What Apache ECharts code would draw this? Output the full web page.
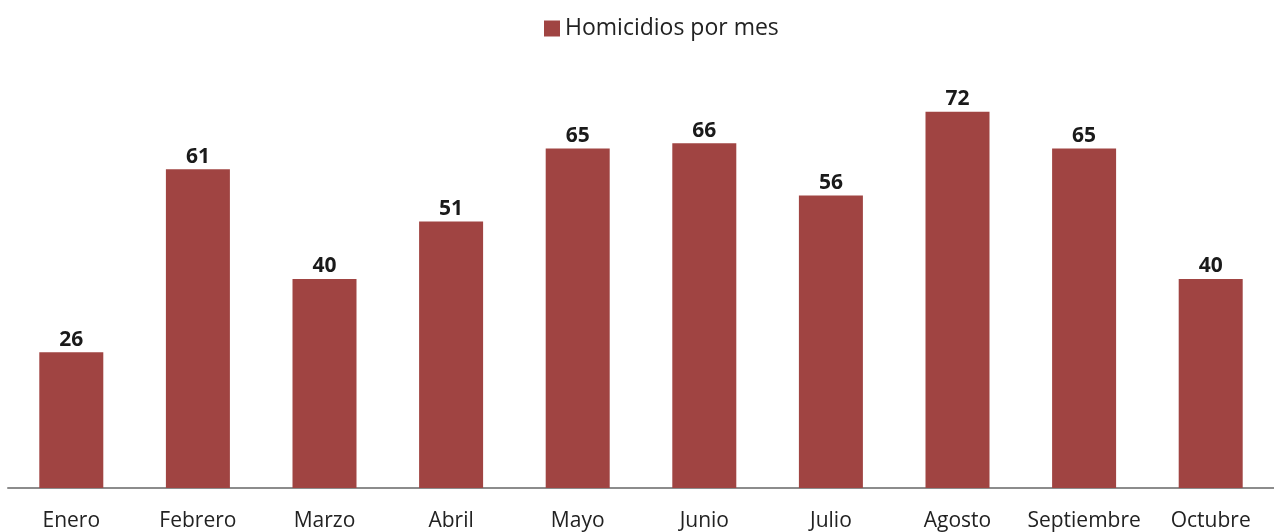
<!DOCTYPE html>
<html><head><meta charset="utf-8">
<script src="https://cdn.jsdelivr.net/npm/echarts@6/dist/echarts.min.js"></script>
<style>html,body{margin:0;padding:0;background:#fff}#c{width:1274px;height:532px}</style>
</head><body><div id="c"></div>
<script>
var categories = ['Enero','Febrero','Marzo','Abril','Mayo','Junio','Julio','Agosto','Septiembre','Octubre'];
var seriesName = 'Homicidios por mes';
var values = [26,61,40,51,65,66,56,72,65,40];
var chart = echarts.init(document.getElementById('c'));
chart.setOption({
  animation:false,
  legend:{left:539, top:12, icon:'rect', itemWidth:16, itemHeight:16, itemGap:8,
    textStyle:{fontFamily:'Open Sans', fontSize:23, color:'#222'},
    data:[seriesName]},
  grid:{left:8, width:1272, top:70, bottom:44, containLabel:false},
  xAxis:{type:'category', data:categories,
    axisLine:{lineStyle:{color:'#8c8c8c', width:2}},
    axisTick:{show:false},
    axisLabel:{fontFamily:'Open Sans', fontSize:21, color:'#222', margin:23, interval:0}},
  yAxis:{type:'value', min:0, max:80, show:false, splitLine:{show:false}},
  series:[{name:seriesName, type:'bar', data:values, barWidth:64,
    itemStyle:{color:'#A04442'},
    label:{show:true, position:'top', distance:2, fontFamily:'Open Sans', fontWeight:'bold', fontSize:21, color:'#1a1a1a'}}]
});
</script></body></html>
